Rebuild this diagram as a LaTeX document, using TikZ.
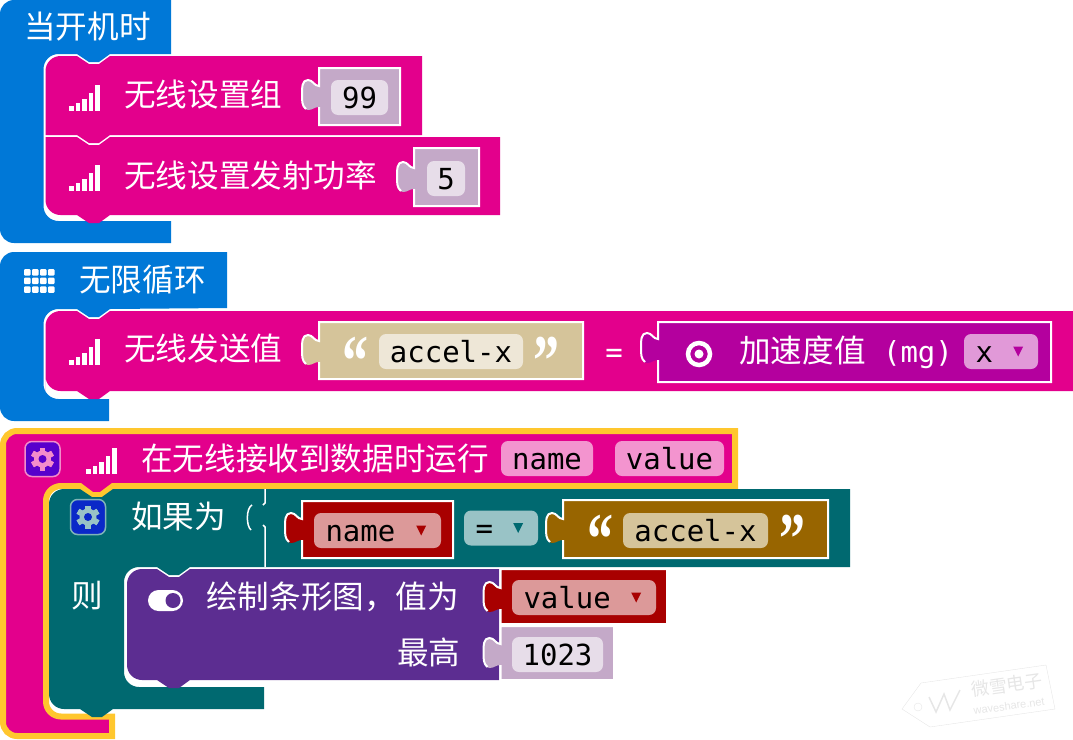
\documentclass[tikz,border=0pt]{standalone}
\usepackage{fontspec}
\setmainfont{DejaVu Sans Mono}
\newfontfamily\zhfont{Noto Sans CJK SC}
\newfontfamily\quotefont{Liberation Serif}
\newfontfamily\markfont{Liberation Sans}
\definecolor{hatblue}{HTML}{0078D7}
\definecolor{radiopink}{HTML}{E3008C}
\definecolor{edgeyellow}{HTML}{FFC72E}
\definecolor{logicteal}{HTML}{006970}
\definecolor{ledpurple}{HTML}{5C2D91}
\definecolor{inputviolet}{HTML}{B4009E}
\definecolor{varred}{HTML}{A80000}
\definecolor{textbrown}{HTML}{986500}
\definecolor{texttan}{HTML}{D5C49A}
\definecolor{numlilac}{HTML}{C4A9C8}
\definecolor{gearviolet}{HTML}{5800CC}
\definecolor{gearblue}{HTML}{0A28C8}
\definecolor{marklight}{HTML}{E6E6E6}
\tikzset{
    zhlabel/.style={anchor=base west, inner sep=0pt, text=white, font=\zhfont\fontsize{31.6}{36}\selectfont},
    pillbox/.style={rounded corners=7pt, inner sep=0pt, minimum height=35pt, text height=21pt, text depth=0pt, text=black, font=\fontsize{29}{34}\selectfont},
    dropbox/.style={pillbox, inner xsep=11.5pt, text width=#1, align=left},
    inputline/.style={draw=white, line width=2pt},
    quotemark/.style={anchor=north, inner sep=0pt, text=white, transform shape, yscale=1.4, font=\quotefont\bfseries\fontsize{52}{52}\selectfont}
}
% block notch, left to right and back
\newcommand{\notchlr}[2]{-- (#1,#2) -- ({#1+12},{#2+8}) -- ({#1+22},{#2+8}) -- ({#1+33},#2)}
\newcommand{\notchrl}[2]{-- ({#1+33},#2) -- ({#1+22},{#2+8}) -- ({#1+12},{#2+8}) -- (#1,#2)}
% puzzle tab on the left side of an input
\newcommand{\inputtab}[2]{-- (#1,{#2+12})
    .. controls ({#1-5},{#2+12}) and ({#1-6},{#2+15}) .. ({#1-11},{#2+15})
    .. controls ({#1-17},{#2+15}) and ({#1-17},{#2+8}) .. ({#1-17},#2)
    .. controls ({#1-17},{#2-8}) and ({#1-17},{#2-15}) .. ({#1-11},{#2-15})
    .. controls ({#1-6},{#2-15}) and ({#1-5},{#2-9}) .. (#1,{#2-9})}
\newcommand{\inputbox}[6]{\fill[#6] (#1,#2) -- (#3,#2) -- (#3,#4) -- (#1,#4) \inputtab{#1}{#5} -- cycle;
    \draw[inputline] ({#1-13},{#5+14}) .. controls ({#1-17},{#5+11}) and ({#1-17},{#5+6}) .. ({#1-17},#5)
        .. controls ({#1-17},{#5-8}) and ({#1-17},{#5-15}) .. ({#1-11},{#5-15})
        .. controls ({#1-6},{#5-15}) and ({#1-5},{#5-9}) .. (#1,{#5-9})
        -- (#1,#2) -- (#3,#2) -- (#3,#4) -- (#1,#4) -- (#1,{#5+12});}
\newcommand{\signalicon}[2]{\foreach \dx/\hgt in {0/5,6.5/8,13/12,19.5/18,26/26} {\fill[white] ({#1+\dx},#2) rectangle ({#1+\dx+4.5},{#2-\hgt});}}
\newcommand{\gearicon}[5]{\filldraw[draw=#4, fill=#3, line width=1.5pt, rounded corners=7pt] ({#1-17.5},{#2-17.5}) rectangle ({#1+17.5},{#2+17.5});
    \foreach \ang in {0,60,...,300} {\fill[#5, shift={(#1,#2)}, rotate=\ang] (-2.8,-11.5) rectangle (2.8,11.5);}
    \fill[#5] (#1,#2) circle (8.5);
    \fill[#3] (#1,#2) circle (4);}
\newcommand{\droptri}[2]{\fill[#2, shift={(#1.east)}] (-25,-5) -- (-15,-5) -- (-20,5) -- cycle;}

\begin{document}
\begin{tikzpicture}[x=1pt, y=-1pt]
    \useasboundingbox (0,0) rectangle (1073,739);
    % On start
    \fill[hatblue] (171,0) -- (171,54) \notchrl{77}{54} [rounded corners=15pt] -- (43.5,54) -- (43.5,221) [sharp corners] -- (171,221) -- (171,243) [rounded corners=14pt] -- (0,243) -- (0,0) [sharp corners] -- cycle;
    \node[zhlabel] (startlabel) at (24,38) {当开机时};
    % Radio group
    \fill[radiopink] (45.5,135) [rounded corners=15pt] -- (45.5,56) [sharp corners] \notchlr{77}{56} -- (422,56) -- (422,135) \notchrl{77}{135} -- cycle;
    \signalicon{69}{111}
    \node[zhlabel] (grouplabel) at (124,106) {无线设置组};
    \inputbox{319}{68}{400}{125}{95}{numlilac}
    \node[pillbox, fill=numlilac!40!white, minimum width=57pt] (groupvalue) at (359.5,97.5) {99};
    % Radio power
    \fill[radiopink] (45.5,137) \notchlr{77}{137} -- (500,137) -- (500,215) \notchrl{77}{215} [rounded corners=15pt] -- (45.5,215) [sharp corners] -- cycle;
    \signalicon{69}{191}
    \node[zhlabel] (powerlabel) at (124,187) {无线设置发射功率};
    \inputbox{414}{148}{479}{206}{177}{numlilac}
    \node[pillbox, fill=numlilac!40!white, minimum width=38pt] (powervalue) at (446,178.5) {5};
    % Forever
    \fill[hatblue] (227,252) -- (227,308) \notchrl{77}{309} [rounded corners=15pt] -- (43.5,309) -- (43.5,399) [sharp corners] -- (109,399) -- (109,421) [rounded corners=14pt] -- (0,421) -- (0,252) [sharp corners] -- cycle;
    \foreach \col in {0,1,2,3} {
        \foreach \row in {0,1,2} {
            \fill[white, rounded corners=1pt] ({24+\col*8},{269+\row*8.7}) rectangle ({30.5+\col*8},{275.5+\row*8.7});
        }
    }
    \node[zhlabel] (foreverlabel) at (79,291) {无限循环};
    % Radio send value
    \fill[radiopink] (45.5,391) [rounded corners=15pt] -- (45.5,311) [sharp corners] \notchlr{77}{311} -- (1073,311) -- (1073,391) \notchrl{77}{391} [rounded corners=15pt] -- (45.5,391) [sharp corners] -- cycle;
    \signalicon{69}{365}
    \node[zhlabel] (sendlabel) at (124,360) {无线发送值};
    \inputbox{319}{322}{583}{379}{350}{texttan}
    \node[quotemark] (sendopen) at (355,337) {“};
    \node[pillbox, fill=texttan!40!white, minimum width=144pt] (sendname) at (451,351.5) {accel-x};
    \node[quotemark] (sendclose) at (546,337) {”};
    \node[pillbox, text=white, text height=0pt, fill=none] (sendequals) at (614,362) {=};
    \inputbox{658}{322}{1051}{382}{348}{inputviolet}
    \filldraw[draw=white, line width=4.5pt, fill=inputviolet] (699,354) circle (11);
    \fill[white] (699,354) circle (4.5);
    \node[anchor=base west, inner sep=0pt, text=white, font=\fontsize{29}{34}\selectfont] (accellabel) at (739,362) {{\zhfont\fontsize{31.6}{36}\selectfont 加速度值}\ (mg)};
    \node[dropbox=51pt, fill=inputviolet!40!white] (accelaxis) at (1001,351.5) {x};
    \droptri{accelaxis}{inputviolet}
    % Radio on received
    \filldraw[draw=edgeyellow, line width=6pt, fill=radiopink] (735,431) -- (735,486) -- (113,486) -- (101,495) -- (92,495) -- (80,486) [rounded corners=15pt] -- (46,486) -- (46,716.5) [sharp corners] -- (112,716.5) -- (112,736) [rounded corners=14pt] -- (3,736) -- (3,431) [sharp corners] -- cycle;
    \gearicon{42.5}{459}{gearviolet}{radiopink!45!white}{radiopink!45!white}
    \signalicon{86}{474}
    \node[zhlabel] (receivelabel) at (141,470) {在无线接收到数据时运行};
    \node[pillbox, fill=radiopink!42!white, minimum width=92pt] (recvname) at (547,458.5) {name};
    \node[pillbox, fill=radiopink!42!white, minimum width=109pt] (recvvalue) at (669.5,458.5) {value};
    % If block
    \fill[logicteal] (850,567) \notchrl{157}{567} [rounded corners=15pt] -- (124,567) -- (124,687) [sharp corners] -- (264,687) -- (264,709) \notchrl{80}{709} [rounded corners=15pt] -- (49,709) -- (49,489) [sharp corners] \notchlr{80}{489} -- (850,489) -- cycle;
    \gearicon{88}{517}{gearblue}{logicteal!50!white}{logicteal!40!white}
    \node[zhlabel] (iflabel) at (131,528) {如果为};
    \node[zhlabel] (thenlabel) at (71,607) {则};
    \draw[white, line width=1.5pt] (265,489) -- (265,503) -- (263,505);
    \draw[white, line width=1.5pt] (252,505) .. controls (246,508) and (246,526) .. (251,530);
    \draw[white, line width=1.5pt] (263,525) -- (265,527) -- (265,567);
    % Condition
    \inputbox{302}{501}{453}{558}{528}{varred}
    \node[dropbox=104pt, fill=varred!40!white] (condname) at (377.5,530.5) {name};
    \droptri{condname}{varred}
    \node[dropbox=51pt, fill=logicteal!40!white] (condop) at (501,528) {=};
    \droptri{condop}{logicteal}
    \inputbox{563}{500}{828}{558}{528}{textbrown}
    \node[quotemark] (condopen) at (600,515) {“};
    \node[pillbox, fill=texttan, minimum width=145pt] (condtext) at (695.5,530.5) {accel-x};
    \node[quotemark] (condclose) at (792,515) {”};
    % Bar graph
    \fill[ledpurple] (499,569) -- (499,680) \notchrl{157}{680} [rounded corners=15pt] -- (127,680) -- (127,569) [sharp corners] \notchlr{157}{569} -- cycle;
    \fill[white, rounded corners=10.5pt] (148,590) rectangle (183,611);
    \fill[ledpurple] (173,600.5) circle (7.5);
    \node[zhlabel] (graphlabel) at (206,608) {绘制条形图，值为};
    \node[zhlabel] (uplabel) at (397,664) {最高};
    \inputbox{500.5}{569}{667}{624}{597}{varred}
    \node[dropbox=121pt, fill=varred!40!white] (graphvalue) at (584,597.5) {value};
    \droptri{graphvalue}{varred}
    \inputbox{500.5}{626}{614}{680}{653}{numlilac}
    \node[pillbox, fill=numlilac!40!white, minimum width=91pt] (graphup) at (557.5,654.5) {1023};
    % Watermark tag
    \draw[marklight] (902,709) -- (921,683) -- (1046,665) -- (1055,709) -- (930,727) -- cycle;
    \draw[marklight] (918,707) circle (4);
    \draw[marklight, line width=1.5pt] (929,697) -- (936,712) -- (944,694) -- (950,710) -- (960,690);
    \node[rotate=8, inner sep=0pt, text=marklight, font=\zhfont\fontsize{18}{19}\selectfont] (markzh) at (1007,685) {微雪电子};
    \node[rotate=8, inner sep=0pt, text=marklight, font=\markfont\fontsize{11}{12}\selectfont] (markweb) at (1009,706) {waveshare.net};
\end{tikzpicture}
\end{document}
